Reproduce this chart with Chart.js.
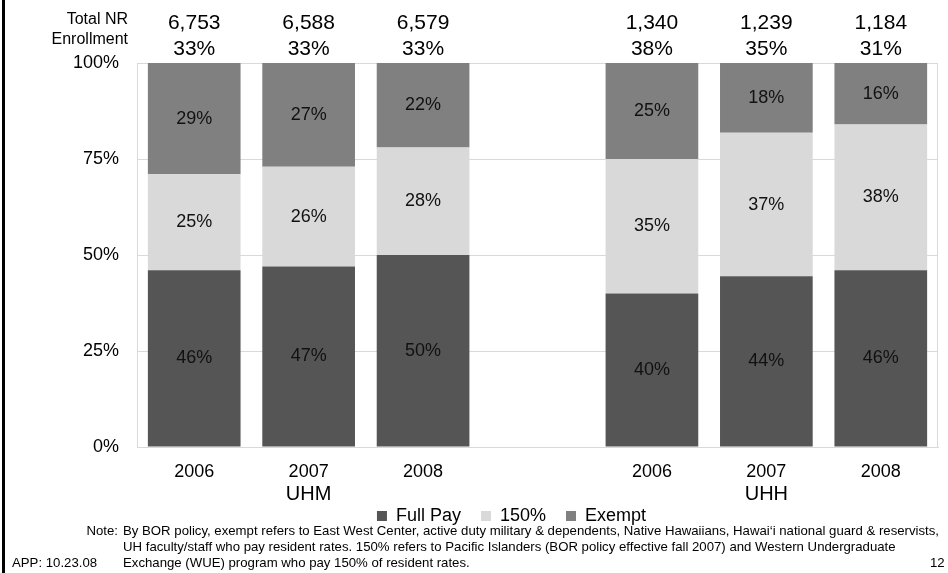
<!DOCTYPE html>
<html>
<head>
<meta charset="utf-8">
<script src="https://cdn.jsdelivr.net/npm/chart.js@4/dist/chart.umd.min.js"></script>
<style>
  body { margin: 0; background: #fff; overflow: hidden; }
  #wrap { position: relative; width: 948px; height: 573px; font-family: 'Liberation Sans', Arial, sans-serif; color: #000; }
  #chart { position: absolute; left: 0; top: 0; }
  .edge { position: absolute; left: 2px; top: 0; width: 3px; height: 573px; background: #000; }
  .txt { position: absolute; font-size: 13.2px; line-height: 16px; white-space: nowrap; }
</style>
</head>
<body>
<div id="wrap">
  <canvas id="chart" width="948" height="573"></canvas>
  <div class="edge"></div>
  <div class="txt" style="left:0; top:523px; width:118px; text-align:right;">Note:</div>
  <div class="txt" style="left:123px; top:523px;">By BOR policy, exempt refers to East West Center, active duty military &amp; dependents, Native Hawaiians, Hawai‘i national guard &amp; reservists,<br>UH faculty/staff who pay resident rates. 150% refers to Pacific Islanders (BOR policy effective fall 2007) and Western Undergraduate<br>Exchange (WUE) program who pay 150% of resident rates.</div>
  <div class="txt" style="left:12px; top:555px;">APP: 10.23.08</div>
  <div class="txt" style="left:930px; top:555px;">12</div>
</div>
<script>
// data
const years = ['2006', '2007', '2008', '', '2006', '2007', '2008']
const campus = ['', 'UHM', '', '', '', 'UHH', '']
const fullPay = [46, 47, 50, null, 40, 44, 46]
const pay150 = [25, 26, 28, null, 35, 37, 38]
const exempt = [29, 27, 22, null, 25, 18, 16]
const totalNR = [6753, 6588, 6579, null, 1340, 1239, 1184]
const nrShare = [33, 33, 33, null, 38, 35, 31]
const yTicks = [0, 25, 50, 75, 100]

const FONT = "'Liberation Sans', Arial, sans-serif"
Chart.defaults.font.family = FONT
Chart.defaults.color = '#000'

// 100% stacked, like the original: each column is scaled to its own sum
function share(arr, i) {
    if (arr[i] == null) return null
    let sum = fullPay[i] + pay150[i] + exempt[i]
    return arr[i] / sum * 100
}
const raw = [fullPay, pay150, exempt]

const framePlugin = {
    id: 'frame',
    afterLayout(chart) {
        // nudge the legend to where it sits on the slide
        chart.legend.left -= 26
        chart.legend.right -= 26
    },
    beforeDatasetsDraw(chart) {
        let a = chart.chartArea
        let ctx = chart.ctx
        ctx.save()
        ctx.strokeStyle = '#d9d9d9'
        ctx.lineWidth = 1
        ctx.strokeRect(a.left + 0.5, a.top + 0.5, a.right - a.left - 1, a.bottom - a.top)
        ctx.restore()
    }
}

const labelPlugin = {
    id: 'segLabels',
    afterDatasetsDraw(chart) {
        let ctx = chart.ctx
        ctx.save()
        ctx.font = '18px ' + FONT
        ctx.fillStyle = '#111'
        ctx.textAlign = 'center'
        ctx.textBaseline = 'middle'
        chart.data.datasets.forEach((ds, d) => {
            chart.getDatasetMeta(d).data.forEach((bar, i) => {
                let v = raw[d][i]
                if (v == null) return
                ctx.fillText(v + '%', bar.x, (bar.y + bar.base) / 2)
            })
        })
        ctx.restore()
    },
    afterDraw(chart) {
        let ctx = chart.ctx
        let x = chart.scales.x
        ctx.save()
        ctx.fillStyle = '#000'
        ctx.textBaseline = 'middle'

        ctx.textAlign = 'right'
        ctx.font = '16px ' + FONT
        ctx.fillText('Total NR', 128, 20)
        ctx.fillText('Enrollment', 128, 40)

        ctx.textAlign = 'center'
        ctx.font = '21px ' + FONT
        totalNR.forEach((t, i) => {
            if (t == null) return
            let px = x.getPixelForValue(i)
            ctx.fillText(t.toLocaleString('en-US'), px, 23)
            ctx.fillText(nrShare[i] + '%', px, 49)
        })

        ctx.font = '20px ' + FONT
        campus.forEach((c, i) => {
            if (!c) return
            ctx.fillText(c, x.getPixelForValue(i), 494)
        })
        ctx.restore()
    }
}

new Chart(document.getElementById('chart'), {
    type: 'bar',
    data: {
        labels: years,
        datasets: [
            { label: 'Full Pay', data: years.map((_, i) => share(fullPay, i)), backgroundColor: '#555555' },
            { label: '150%', data: years.map((_, i) => share(pay150, i)), backgroundColor: '#d9d9d9' },
            { label: 'Exempt', data: years.map((_, i) => share(exempt, i)), backgroundColor: '#808080' }
        ]
    },
    options: {
        responsive: false,
        animation: false,
        devicePixelRatio: 1,
        layout: { padding: { top: 63, right: 10, bottom: 38, left: 0 } },
        datasets: { bar: { barPercentage: 0.81, categoryPercentage: 1 } },
        scales: {
            x: {
                stacked: true,
                grid: { display: false },
                border: { color: '#d9d9d9' },
                ticks: { font: { size: 18 }, color: '#000', padding: 6, maxRotation: 0, autoSkip: false },
                afterFit(s) { s.height = 40 }
            },
            y: {
                stacked: true,
                min: 0,
                max: 100,
                afterBuildTicks(s) { s.ticks = yTicks.map(v => ({ value: v })) },
                ticks: { font: { size: 18 }, color: '#000', padding: 18, callback: v => v + '%' },
                grid: { color: '#d9d9d9', drawTicks: false },
                border: { color: '#d9d9d9' },
                afterFit(s) { s.width = 137 }
            }
        },
        plugins: {
            tooltip: { enabled: false },
            legend: {
                position: 'bottom',
                fullSize: false,
                labels: { boxWidth: 10, boxHeight: 10, padding: 20, font: { size: 18 }, color: '#000' }
            }
        }
    },
    plugins: [framePlugin, labelPlugin]
})
</script>
</body>
</html>
